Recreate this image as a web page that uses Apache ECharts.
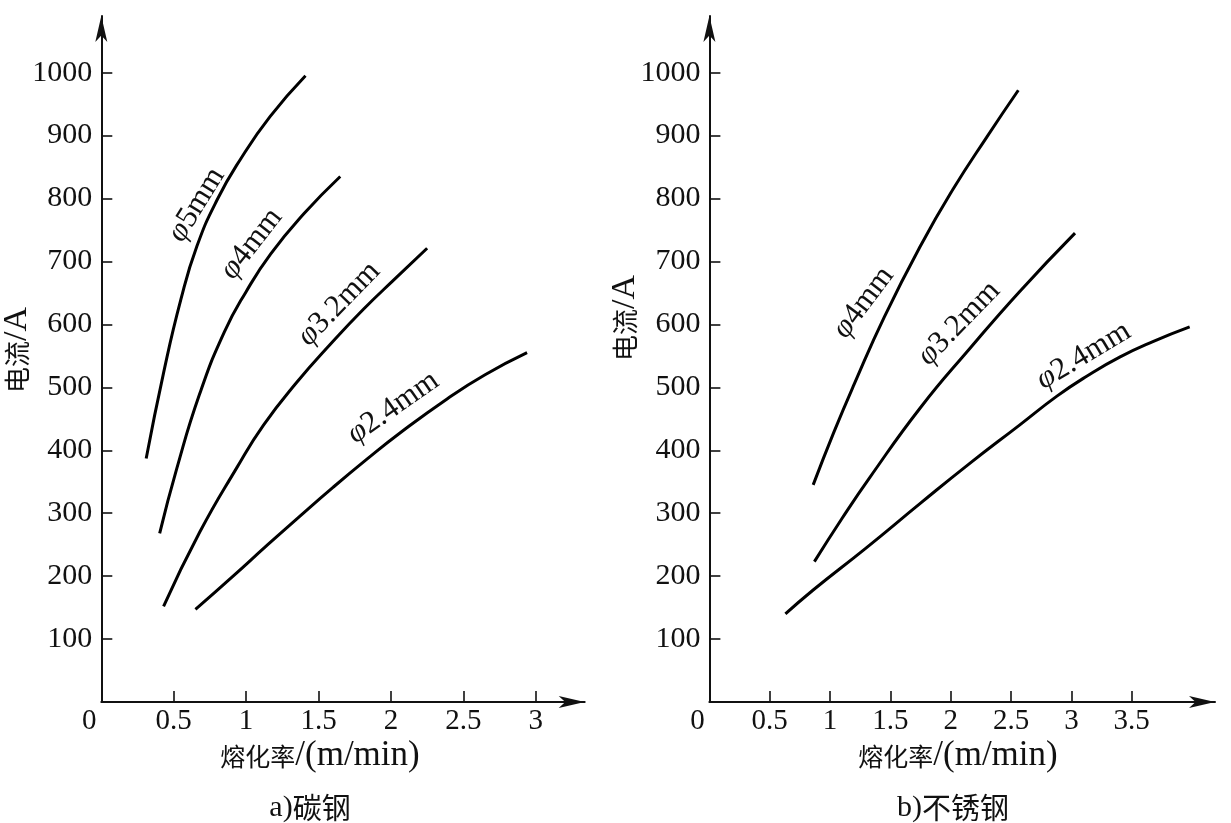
<!DOCTYPE html>
<html><head><meta charset="utf-8">
<script src="https://cdn.jsdelivr.net/npm/echarts@6/dist/echarts.min.js"></script>
<style>html,body{margin:0;padding:0;background:#fff}#c{width:1231px;height:823px}</style>
</head><body><div id="c"></div>
<script>
// ---- data ----
const yTickValues = [100, 200, 300, 400, 500, 600, 700, 800, 900, 1000];
const xTickValuesA = [0.5, 1, 1.5, 2, 2.5, 3];
const xTickValuesB = [0.5, 1, 1.5, 2, 2.5, 3, 3.5];
const xLabelValuesA = [0, 0.5, 1, 1.5, 2, 2.5, 3];
const xLabelValuesB = [0, 0.5, 1, 1.5, 2, 2.5, 3, 3.5];

// a) carbon steel  [melting rate m/min, current A]
const carbon_d5  = [[0.31,387],[0.43,523],[0.55,640],[0.66,724],[0.80,798],[0.96,862],[1.165,930],[1.41,995]];
const carbon_d4  = [[0.403,268],[0.52,370],[0.68,490],[0.85,588],[1.00,652],[1.17,712],[1.40,776],[1.65,835]];
const carbon_d32 = [[0.43,152],[0.68,270],[0.935,372],[1.12,440],[1.35,508],[1.58,568],[1.81,624],[2.04,675],[2.25,721]];
const carbon_d24 = [[0.65,147],[0.91,200],[1.14,248],[1.37,295],[1.60,341],[1.83,385],[2.06,427],[2.39,482],[2.65,520],[2.94,555]];

// b) stainless steel
const stainless_d4  = [[0.86,345],[1.03,428],[1.20,505],[1.45,612],[1.75,725],[2.02,815],[2.30,898],[2.56,972]];
const stainless_d32 = [[0.87,223],[1.10,292],[1.33,357],[1.75,468],[2.16,562],[2.57,652],[3.03,745]];
const stainless_d24 = [[0.63,140],[0.86,178],[1.30,245],[1.75,316],[2.15,378],[2.57,440],[2.88,486],[3.13,518],[3.40,548],[3.68,573],[3.98,596]];

const curveNamesA = ['5mm', '4mm', '3.2mm', '2.4mm'];
const curveNamesB = ['4mm', '3.2mm', '2.4mm'];
const labelAnchorsA = [[0.693,785],[1.07,722],[1.671,626],[2.04,460]];
const labelAnchorsB = [[1.317,629],[2.104,595],[3.127,542]];
const labelAnglesA = [58, 52, 46, 35];
const labelAnglesB = [53, 46, 31];

const yName = '电流/A';
const xName = ['熔化率', '/(m/min)'];
const subTitles = [['a)', '碳钢'], ['b)', '不锈钢']];

// ---- chart ----
const SERIF = "'Liberation Serif','Times New Roman',serif";
const CJK = "'Noto Sans CJK SC',sans-serif";
const INK = '#111';

const chart = echarts.init(document.getElementById('c'), null, {renderer: 'canvas'});

function xAxisDef(gridIndex, max, ticks, labels) {
  return {
    type: 'value', gridIndex, min: 0, max,
    axisLine: {show: true, symbol: ['none', 'arrow'], symbolSize: [9, 26], lineStyle: {color: INK, width: 2}},
    axisTick: {show: true, inside: true, length: 11, customValues: ticks, lineStyle: {color: INK, width: 1.6}},
    axisLabel: {
      customValues: labels, margin: 5, color: INK, fontFamily: SERIF, fontSize: 29,
      formatter: v => v === 0 ? '{o|0}' : String(v),
      rich: {o: {fontFamily: SERIF, fontSize: 29, color: INK, padding: [0, 24, 0, 0]}}
    },
    splitLine: {show: false}
  };
}
function yAxisDef(gridIndex) {
  return {
    type: 'value', gridIndex, min: 0, max: 1090,
    axisLine: {show: true, symbol: ['none', 'arrow'], symbolSize: [9, 26], lineStyle: {color: INK, width: 2}},
    axisTick: {show: true, inside: true, length: 11, customValues: yTickValues, lineStyle: {color: INK, width: 1.6}},
    axisLabel: {customValues: yTickValues, margin: 9, color: INK, fontFamily: SERIF, fontSize: 30,
      formatter: v => String(v)},
    splitLine: {show: false}
  };
}
function lineSeries(data, xi, yi) {
  return {
    type: 'line', data, xAxisIndex: xi, yAxisIndex: yi, smooth: 0.5,
    showSymbol: false, symbol: 'none', silent: true,
    lineStyle: {color: '#000', width: 3}
  };
}

chart.setOption({
  animation: false,
  backgroundColor: '#fff',
  grid: [
    {left: 101.3, top: 16, width: 483.4, height: 686},
    {left: 709.4, top: 16, width: 505.6, height: 686}
  ],
  xAxis: [xAxisDef(0, 3.338, xTickValuesA, xLabelValuesA), xAxisDef(1, 4.19, xTickValuesB, xLabelValuesB)],
  yAxis: [yAxisDef(0), yAxisDef(1)],
  series: [
    lineSeries(carbon_d5, 0, 0), lineSeries(carbon_d4, 0, 0),
    lineSeries(carbon_d32, 0, 0), lineSeries(carbon_d24, 0, 0),
    lineSeries(stainless_d4, 1, 1), lineSeries(stainless_d32, 1, 1), lineSeries(stainless_d24, 1, 1)
  ]
});

const LABEL_LIFT = 6; // px, moves each curve label away from its curve (up-left)
function curveLabel(gridIndex, name, anchor, angle) {
  const p = chart.convertToPixel({gridIndex}, anchor);
  const a = angle * Math.PI / 180;
  return {
    type: 'text', x: p[0] - LABEL_LIFT * Math.sin(a), y: p[1] - LABEL_LIFT * Math.cos(a), rotation: a,
    style: {
      text: '{i|φ}{n|' + name + '}', align: 'center', verticalAlign: 'middle', fill: INK,
      rich: {
        i: {fontFamily: SERIF, fontSize: 31, fontStyle: 'italic', fill: INK},
        n: {fontFamily: SERIF, fontSize: 31, fill: INK}
      }
    }
  };
}
function mixedText(x, y, latinFirst, a, b, sa, sb, rot) {
  return {
    type: 'text', x, y, rotation: rot || 0,
    style: {
      text: '{a|' + a + '}{b|' + b + '}', align: 'center', verticalAlign: 'middle', fill: INK,
      rich: {
        a: {fontFamily: latinFirst ? SERIF : CJK, fontSize: sa, fill: INK},
        b: {fontFamily: latinFirst ? CJK : SERIF, fontSize: sb, fill: INK}
      }
    }
  };
}

const graphics = [];
curveNamesA.forEach((n, i) => graphics.push(curveLabel(0, n, labelAnchorsA[i], labelAnglesA[i])));
curveNamesB.forEach((n, i) => graphics.push(curveLabel(1, n, labelAnchorsB[i], labelAnglesB[i])));
const yParts = [yName.slice(0, 2), yName.slice(2)];
graphics.push(mixedText(17, 350, false, yParts[0], yParts[1], 26, 34, Math.PI / 2));
graphics.push(mixedText(625, 318, false, yParts[0], yParts[1], 26, 34, Math.PI / 2));
graphics.push(mixedText(320, 756, false, xName[0], xName[1], 25, 35));
graphics.push(mixedText(958, 756, false, xName[0], xName[1], 25, 35));
graphics.push(mixedText(310, 808, true, subTitles[0][0], subTitles[0][1], 30, 29));
graphics.push(mixedText(953, 808, true, subTitles[1][0], subTitles[1][1], 30, 29));

chart.setOption({graphic: graphics});
</script>
</body></html>
